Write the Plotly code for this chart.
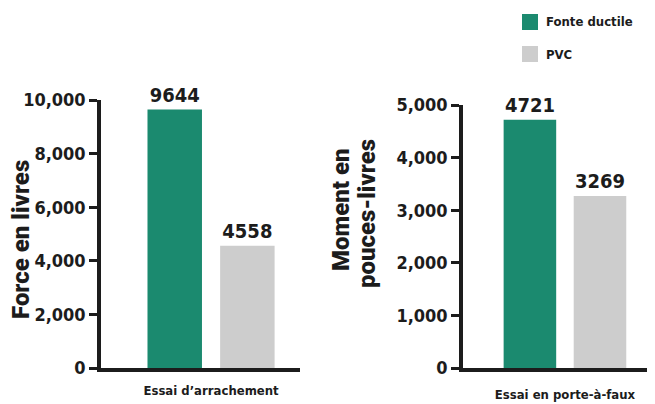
import plotly.graph_objects as go

# ---- data ----
series_names = ["Fonte ductile", "PVC"]
test_left = ["Essai d\u2019arrachement"]
test_right = ["Essai en porte-\u00e0-faux"]
force_values = [9644, 4558]        # Force en livres
moment_values = [4721, 3269]       # Moment en pouces-livres
left_ticks = [0, 2000, 4000, 6000, 8000, 10000]
right_ticks = [0, 1000, 2000, 3000, 4000, 5000]

colors = ["#1b8a6f", "#cdcdcd"]
dark = "#1c1c1c"
cond = "DejaVu Sans Condensed"
geo = "Roboto, sans-serif"

# page offset (browser body margin) and figure size
OFF = 8
W, H = 655 - OFF, 404 - OFF
T, B = 100 - OFF, 404 - 368
PH = H - T - B

def py(v):   # page y -> paper y
    return (368 - v) / PH

def px(v):   # page x -> paper x
    return (v - OFF) / W

def cfont(size):
    return dict(family=cond, size=size, color=dark, weight="bold")

fig = go.Figure()
for i, name in enumerate(series_names):
    fig.add_trace(go.Bar(
        x=test_left, y=[force_values[i]], name=name, marker_color=colors[i],
        marker_line_width=0, xaxis="x", yaxis="y", showlegend=False,
        text=[str(force_values[i])], texttemplate="%{text}", textposition="outside",
        textfont=cfont(20), cliponaxis=False, hoverinfo="skip"))
for i, name in enumerate(series_names):
    fig.add_trace(go.Bar(
        x=test_right, y=[moment_values[i]], name=name, marker_color=colors[i],
        marker_line_width=0, xaxis="x2", yaxis="y2", showlegend=False,
        text=[str(moment_values[i])], texttemplate="%{text}", textposition="outside",
        textfont=cfont(20), cliponaxis=False, hoverinfo="skip"))

axis_common = dict(showgrid=False, zeroline=False, showline=True, linecolor=dark,
                   linewidth=3.5, automargin=False)

fig.update_layout(
    template="none",
    width=W, height=H,
    margin=dict(l=0, r=0, t=T, b=B, autoexpand=False),
    paper_bgcolor="white", plot_bgcolor="white",
    barmode="group", bargap=0.27, bargroupgap=0.25,
    xaxis=dict(domain=[px(101), px(300)], range=[-0.553, 0.447], ticks="",
               tickfont=cfont(13), ticklabelstandoff=8, anchor="y", **axis_common),
    yaxis=dict(domain=[0, 1], range=[0, 10000], tickvals=left_ticks, tickformat=",",
               ticks="outside", ticklen=8, tickwidth=3, tickcolor=dark,
               tickfont=cfont(18), anchor="x", **axis_common),
    xaxis2=dict(domain=[px(463), 1.0], range=[-0.531, 0.469], ticks="",
                tickfont=cfont(13), ticklabelstandoff=12, anchor="y2", **axis_common),
    yaxis2=dict(domain=[0, py(105)], range=[0, 5000], tickvals=right_ticks, tickformat=",",
                ticks="outside", ticklen=8, tickwidth=3, tickcolor=dark,
                tickfont=cfont(18), anchor="x2", **axis_common),
)

# axis titles
title_font = dict(family=geo, size=24, color=dark, weight=900)
fig.add_annotation(text="Force en livres", xref="paper", yref="paper",
                   x=px(21), y=py(240), textangle=-90, showarrow=False,
                   font=title_font, xanchor="center", yanchor="middle")
fig.add_annotation(text="Moment en", xref="paper", yref="paper",
                   x=px(341), y=py(210), textangle=-90, showarrow=False,
                   font=title_font, xanchor="center", yanchor="middle")
fig.add_annotation(text="pouces-livres", xref="paper", yref="paper",
                   x=px(367), y=py(214), textangle=-90, showarrow=False,
                   font=title_font, xanchor="center", yanchor="middle")

# legend (manual, large swatches)
leg_y = [22, 54]
for i, name in enumerate(series_names):
    fig.add_shape(type="rect", xref="paper", yref="paper",
                  x0=px(522), x1=px(538), y0=py(leg_y[i] + 8), y1=py(leg_y[i] - 8),
                  fillcolor=colors[i], line_width=0)
    fig.add_annotation(text=name, xref="paper", yref="paper",
                       x=px(544), y=py(leg_y[i]), showarrow=False,
                       xanchor="left", yanchor="middle", font=cfont(13))

fig.write_html("out.html")
